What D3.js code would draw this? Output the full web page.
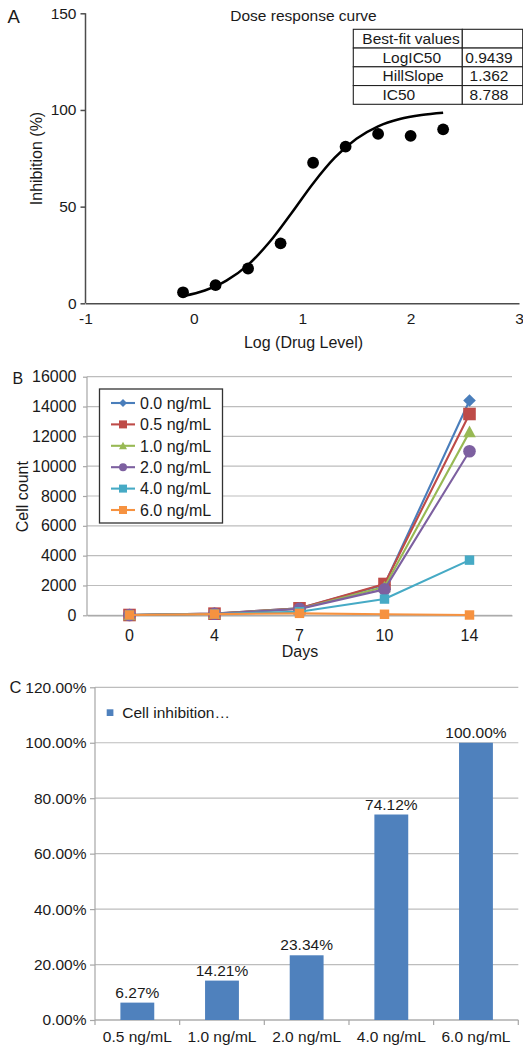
<!DOCTYPE html>
<html>
<head>
<meta charset="utf-8">
<script src="https://cdn.jsdelivr.net/npm/d3@7"></script>
<style>
  html, body { margin: 0; padding: 0; background: #fff; }
  svg { display: block; font-family: "Liberation Sans", Arial, sans-serif; }
  text { fill: #1a1a1a; }
</style>
</head>
<body>
<svg id="chart" width="523" height="1046"></svg>
<script>
// ---------- Panel A data ----------
const logDose = [-0.1, 0.2, 0.5, 0.8, 1.1, 1.4, 1.7, 2.0, 2.3];
const inhibition = [5.7, 9.4, 18, 31, 72.7, 81, 87.6, 86.6, 90];
const fitX = [-0.1, 0.1, 0.3, 0.5, 0.7, 0.9, 1.1, 1.3, 1.5, 1.7, 1.9, 2.1, 2.3];
const fitY = [3.7, 6.6, 11.7, 19.9, 31.8, 46.6, 62.0, 75.3, 85.1, 91.5, 95.3, 97.4, 98.6];
const xTicksA = [-1, 0, 1, 2, 3];
const yTicksA = [0, 50, 100, 150];
const tableLabels = ["Best-fit values", "LogIC50", "HillSlope", "IC50"];
const tableValues = ["", "0.9439", "1.362", "8.788"];

// ---------- Panel B data ----------
const days = ["0", "4", "7", "10", "14"];
const seriesNames = ["0.0 ng/mL", "0.5 ng/mL", "1.0 ng/mL", "2.0 ng/mL", "4.0 ng/mL", "6.0 ng/mL"];
const s00 = [20, 110, 470, 2050, 14400];
const s05 = [20, 110, 470, 2100, 13500];
const s10 = [20, 105, 440, 1900, 12300];
const s20 = [20, 100, 430, 1740, 11000];
const s40 = [20, 90, 240, 1090, 3700];
const s60 = [20, 80, 130, 70, 20];
const yTicksB = [0, 2000, 4000, 6000, 8000, 10000, 12000, 14000, 16000];
const seriesColors = ["#4a7ebb", "#be4b48", "#98b954", "#7d60a0", "#46aac5", "#f69240"];
const seriesMarkers = ["diamond", "square", "triangle", "circle", "smallsquare", "smallsquare"];

// ---------- Panel C data ----------
const concentrations = ["0.5 ng/mL", "1.0 ng/mL", "2.0 ng/mL", "4.0 ng/mL", "6.0 ng/mL"];
const cellInhibition = [0.0627, 0.1421, 0.2334, 0.7412, 1.0];
const yTicksC = [0, 0.2, 0.4, 0.6, 0.8, 1.0, 1.2];

const svg = d3.select("#chart");
const FS = 15.5;

// ================= Panel A =================
(function () {
  const g = svg.append("g");
  const x = d3.scaleLinear().domain([-1, 3]).range([85.5, 519]);
  const y = d3.scaleLinear().domain([0, 150]).range([303.3, 13.3]);
  const axisColor = "#4d4d4d";

  const ya = g.append("g").attr("transform", `translate(${x(-1)},0)`)
    .call(d3.axisLeft(y).tickValues(yTicksA).tickSize(5).tickPadding(4).tickFormat(d => String(d)));
  ya.select(".domain").attr("stroke", axisColor).attr("stroke-width", 1.5).attr("d", `M0,${y(150)}V${y(0)}`);
  ya.selectAll(".tick line").attr("stroke", axisColor).attr("stroke-width", 1.5);
  ya.selectAll("text").attr("font-size", FS).attr("font-family", null).attr("fill", "#1a1a1a");

  const xa = g.append("g").attr("transform", `translate(0,${y(0)})`)
    .call(d3.axisBottom(x).tickValues(xTicksA).tickSize(0).tickPadding(9.5).tickFormat(d => String(d)));
  xa.select(".domain").attr("stroke", axisColor).attr("stroke-width", 1.5);
  xa.selectAll("text").attr("font-size", FS).attr("font-family", null).attr("fill", "#1a1a1a");

  // fitted curve
  const line = d3.line().x(d => x(d[0])).y(d => y(d[1])).curve(d3.curveMonotoneX);
  g.append("path").datum(fitX.map((v, i) => [v, fitY[i]]))
    .attr("d", line).attr("fill", "none").attr("stroke", "#000").attr("stroke-width", 2.5);

  // points
  g.selectAll("circle.pt").data(logDose.map((v, i) => [v, inhibition[i]])).enter()
    .append("circle").attr("class", "pt")
    .attr("cx", d => x(d[0])).attr("cy", d => y(d[1])).attr("r", 5.9).attr("fill", "#000");

  // titles
  g.append("text").attr("x", 303.5).attr("y", 20.5).attr("text-anchor", "middle").attr("font-size", FS).text("Dose response curve");
  g.append("text").attr("x", 303.5).attr("y", 348).attr("text-anchor", "middle").attr("font-size", FS + 0.5).text("Log (Drug Level)");
  g.append("text").attr("transform", "translate(41.5,158.5) rotate(-90)").attr("text-anchor", "middle").attr("font-size", FS + 0.5).text("Inhibition (%)");
  g.append("text").attr("x", 7.5).attr("y", 22.7).attr("font-size", 18.5).text("A");

  // best-fit table
  const rowY = d3.scaleBand().domain(d3.range(tableLabels.length)).range([29.3, 104.3]);
  const colL = 353.3, colM = 462.3, colR = 522.7;
  const tg = g.append("g");
  tg.selectAll("rect.cellL").data(tableLabels).enter().append("rect")
    .attr("x", colL).attr("y", (d, i) => rowY(i)).attr("width", colM - colL).attr("height", rowY.bandwidth())
    .attr("fill", "#fff").attr("stroke", "#222").attr("stroke-width", 1.1);
  tg.selectAll("rect.cellR").data(tableValues).enter().append("rect")
    .attr("x", colM).attr("y", (d, i) => rowY(i)).attr("width", colR - colM).attr("height", rowY.bandwidth())
    .attr("fill", "#fff").attr("stroke", "#222").attr("stroke-width", 1.1);
  tg.selectAll("text.lab").data(tableLabels).enter().append("text")
    .attr("x", (d, i) => i === 0 ? 411 : 382.5)
    .attr("text-anchor", (d, i) => i === 0 ? "middle" : "start")
    .attr("y", (d, i) => rowY(i) + rowY.bandwidth() / 2 + 5.3)
    .attr("font-size", FS).text(d => d);
  tg.selectAll("text.val").data(tableValues).enter().append("text")
    .attr("x", 489).attr("text-anchor", "middle")
    .attr("y", (d, i) => rowY(i) + rowY.bandwidth() / 2 + 5.3)
    .attr("font-size", FS).text(d => d);
})();

// ================= Panel B =================
function markerPath(type, s) {
  switch (type) {
    case "diamond": return `M0,${-s}L${s},0L0,${s}L${-s},0Z`;
    case "square": return `M${-s},${-s}H${s}V${s}H${-s}Z`;
    case "smallsquare": return `M${-s * 0.75},${-s * 0.75}H${s * 0.75}V${s * 0.75}H${-s * 0.75}Z`;
    case "triangle": return `M0,${-s}L${s},${s * 0.85}L${-s},${s * 0.85}Z`;
    case "circle": return `M${s},0A${s},${s} 0 1,1 ${-s},0A${s},${s} 0 1,1 ${s},0Z`;
  }
}
(function () {
  const g = svg.append("g");
  const x = d3.scaleBand().domain(days).range([87, 512]).padding(0);
  const y = d3.scaleLinear().domain([0, 16000]).range([615.3, 376.7]);
  const gridColor = "#bdbdbd";

  g.append("g").selectAll("line").data(yTicksB).enter().append("line")
    .attr("x1", 87).attr("x2", 512).attr("y1", d => y(d)).attr("y2", d => y(d))
    .attr("stroke", gridColor).attr("stroke-width", 1.2);

  const ya = g.append("g").attr("transform", "translate(87,0)")
    .call(d3.axisLeft(y).tickValues(yTicksB).tickSize(4).tickPadding(6.5).tickFormat(d => String(d)));
  ya.select(".domain").attr("stroke", "#a6a6a6").attr("stroke-width", 1.2).attr("d", `M0,${y(16000)}V${y(0)}`);
  ya.selectAll(".tick line").attr("stroke", "#a6a6a6").attr("stroke-width", 1.2);
  ya.selectAll("text").attr("font-size", 16).attr("font-family", null).attr("fill", "#1a1a1a");

  const xa = g.append("g").attr("transform", `translate(0,${y(0)})`)
    .call(d3.axisBottom(x).tickSize(0).tickPadding(14));
  xa.select(".domain").attr("stroke", "#a6a6a6").attr("stroke-width", 1.2);
  xa.selectAll("text").attr("font-size", 16).attr("font-family", null).attr("fill", "#1a1a1a");

  const allSeries = [s00, s05, s10, s20, s40, s60];
  const line = d3.line().x((d, i) => x(days[i]) + x.bandwidth() / 2).y(d => y(d));
  allSeries.forEach((vals, k) => {
    const sg = g.append("g");
    sg.append("path").datum(vals).attr("d", line).attr("fill", "none")
      .attr("stroke", seriesColors[k]).attr("stroke-width", 2.1).attr("stroke-linejoin", "round");
    sg.selectAll("path.mk").data(vals).enter().append("path").attr("class", "mk")
      .attr("transform", (d, i) => `translate(${x(days[i]) + x.bandwidth() / 2},${y(d)})`)
      .attr("d", markerPath(seriesMarkers[k], 6.3)).attr("fill", seriesColors[k]);
  });

  // legend
  const lg = g.append("g");
  lg.append("rect").attr("x", 99.5).attr("y", 389).attr("width", 123).attr("height", 134)
    .attr("fill", "#fff").attr("stroke", "#333").attr("stroke-width", 1.3);
  const ly = d3.scalePoint().domain(seriesNames).range([403, 510]);
  seriesNames.forEach((name, k) => {
    const cy = ly(name);
    lg.append("line").attr("x1", 111).attr("x2", 135).attr("y1", cy).attr("y2", cy)
      .attr("stroke", seriesColors[k]).attr("stroke-width", 2.1);
    lg.append("path").attr("transform", `translate(123,${cy})`)
      .attr("d", markerPath(seriesMarkers[k] === "smallsquare" ? "square" : seriesMarkers[k], 4))
      .attr("fill", seriesColors[k]);
    lg.append("text").attr("x", 140).attr("y", cy + 5.7).attr("font-size", 16).text(name);
  });

  g.append("text").attr("x", 300).attr("y", 657).attr("text-anchor", "middle").attr("font-size", 16).text("Days");
  g.append("text").attr("transform", "translate(28.3,496.7) rotate(-90)").attr("text-anchor", "middle").attr("font-size", 16).text("Cell count");
  g.append("text").attr("x", 12.5).attr("y", 384).attr("font-size", 16).text("B");
})();

// ================= Panel C =================
(function () {
  const g = svg.append("g");
  const x = d3.scaleBand().domain(concentrations).range([95, 518.3]).paddingInner(0.6).paddingOuter(0.3);
  const y = d3.scaleLinear().domain([0, 1.2]).range([1020, 687.3]);
  const gridColor = "#bdbdbd";

  g.append("g").selectAll("line").data(yTicksC).enter().append("line")
    .attr("x1", 95).attr("x2", 518.3).attr("y1", d => y(d)).attr("y2", d => y(d))
    .attr("stroke", gridColor).attr("stroke-width", 1.2);

  const ya = g.append("g").attr("transform", "translate(95,0)")
    .call(d3.axisLeft(y).tickValues(yTicksC).tickSize(5).tickPadding(3.5).tickFormat(d3.format(".2%")));
  ya.select(".domain").attr("stroke", "#a6a6a6").attr("stroke-width", 1.2).attr("d", `M0,${y(1.2)}V${y(0)}`);
  ya.selectAll(".tick line").attr("stroke", "#a6a6a6").attr("stroke-width", 1.2);
  ya.selectAll("text").attr("font-size", FS).attr("font-family", null).attr("fill", "#1a1a1a");

  const xa = g.append("g").attr("transform", `translate(0,${y(0)})`)
    .call(d3.axisBottom(x).tickSize(0).tickPadding(10.5));
  xa.select(".domain").attr("stroke", "#a6a6a6").attr("stroke-width", 1.2).attr("d", `M95,0H518.3`);
  xa.selectAll("text").attr("font-size", FS).attr("font-family", null).attr("fill", "#1a1a1a");
  const step = x.step();
  const boundaries = d3.range(concentrations.length + 1).map(i => 95 + i * step);
  xa.selectAll("line.sep").data(boundaries).enter().append("line").attr("class", "sep")
    .attr("x1", d => d).attr("x2", d => d).attr("y1", 0).attr("y2", 5)
    .attr("stroke", "#a6a6a6").attr("stroke-width", 1.2);

  g.selectAll("rect.bar").data(cellInhibition).enter().append("rect").attr("class", "bar")
    .attr("x", (d, i) => x(concentrations[i])).attr("width", x.bandwidth())
    .attr("y", d => y(d)).attr("height", d => y(0) - y(d))
    .attr("fill", "#4f81bd");

  g.selectAll("text.lbl").data(cellInhibition).enter().append("text").attr("class", "lbl")
    .attr("x", (d, i) => x(concentrations[i]) + x.bandwidth() / 2)
    .attr("y", d => y(d) - 4.8).attr("text-anchor", "middle").attr("font-size", FS)
    .text(d => d3.format(".2%")(d));

  g.append("rect").attr("x", 106.7).attr("y", 709.3).attr("width", 6.7).attr("height", 6.7).attr("fill", "#4f81bd");
  g.append("text").attr("x", 122.3).attr("y", 718.2).attr("font-size", FS).text("Cell inhibition…");
  g.append("text").attr("x", 9.5).attr("y", 693.3).attr("font-size", 16.5).text("C");
})();
</script>
</body>
</html>
